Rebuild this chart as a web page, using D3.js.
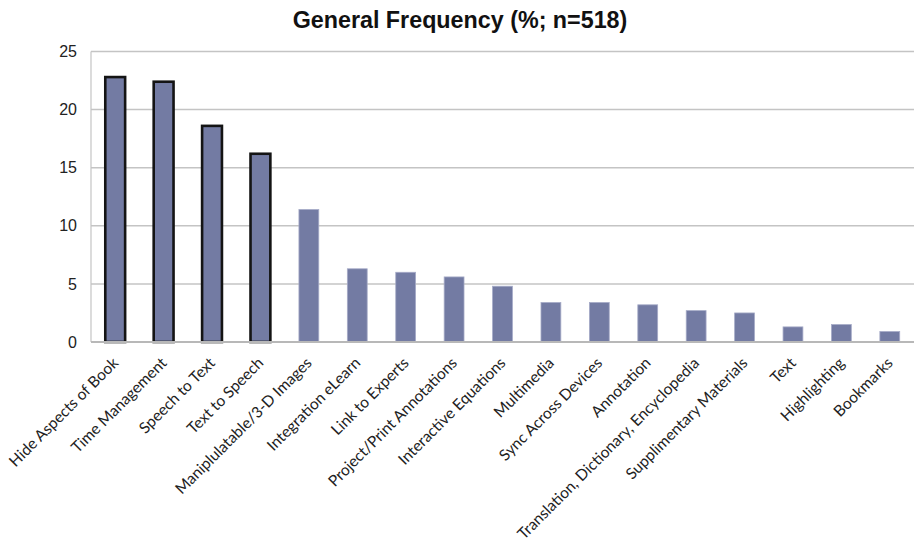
<!DOCTYPE html>
<html>
<head>
<meta charset="utf-8">
<script src="https://cdn.jsdelivr.net/npm/d3@7"></script>
<style>
  html, body { margin: 0; padding: 0; background: #fff; }
  svg { display: block; }
</style>
</head>
<body>
<svg id="chart" width="914" height="542"></svg>
<script>
// Feature categories, in chart order
const categories = [
  "Hide Aspects of Book", "Time Management", "Speech to Text", "Text to Speech",
  "Maniplulatable/3-D Images", "Integration eLearn", "Link to Experts",
  "Project/Print Annotations", "Interactive Equations", "Multimedia",
  "Sync Across Devices", "Annotation", "Translation, Dictionary, Encyclopedia",
  "Supplimentary Materials", "Text", "Highlighting", "Bookmarks"
];
// General frequency, percent of respondents
const frequency = [22.8, 22.4, 18.6, 16.2, 11.4, 6.3, 6.0, 5.6, 4.8, 3.4, 3.4, 3.2, 2.7, 2.5, 1.3, 1.5, 0.9];
// Categories drawn with a heavy outline
const outlined = ["Hide Aspects of Book", "Time Management", "Speech to Text", "Text to Speech"];
const yTicks = [0, 5, 10, 15, 20, 25];
const title = "General Frequency (%; n=518)";

const data = categories.map((c, i) => ({ name: c, value: frequency[i] }));

const svg = d3.select("#chart");
const plotLeft = 91, plotRight = 914, plotTop = 51.5, plotBottom = 342;

const x = d3.scaleBand()
  .domain(categories)
  .range([plotLeft, plotRight])
  .paddingInner(0.59)
  .paddingOuter(0.295);

const y = d3.scaleLinear().domain([0, 25]).range([plotBottom, plotTop]);

// Title
svg.append("text")
  .attr("x", 460)
  .attr("y", 28)
  .attr("text-anchor", "middle")
  .style("font-family", "'Liberation Sans', Arial, sans-serif")
  .style("font-weight", "bold")
  .style("font-size", "23.3px")
  .style("fill", "#111")
  .text(title);

// Horizontal gridlines
svg.append("g")
  .selectAll("line")
  .data(yTicks.filter(t => t > 0))
  .join("line")
  .attr("x1", plotLeft).attr("x2", plotRight)
  .attr("y1", d => y(d)).attr("y2", d => y(d))
  .attr("stroke", "#c4c4c4")
  .attr("stroke-width", 1.5);

// Vertical axis line
svg.append("line")
  .attr("x1", plotLeft).attr("x2", plotLeft)
  .attr("y1", plotTop).attr("y2", plotBottom)
  .attr("stroke", "#c4c4c4")
  .attr("stroke-width", 1.2);

// Y tick labels
const yAxis = d3.axisLeft(y).tickValues(yTicks).tickSize(0).tickPadding(14);
const gy = svg.append("g").attr("transform", `translate(${plotLeft},0)`).call(yAxis);
gy.select(".domain").remove();
gy.selectAll("text")
  .style("font-family", "'Liberation Sans', Arial, sans-serif")
  .style("font-size", "16px")
  .style("fill", "#222");

// Bars
svg.append("g")
  .selectAll("rect")
  .data(data)
  .join("rect")
  .attr("x", d => x(d.name))
  .attr("y", d => y(d.value))
  .attr("width", x.bandwidth())
  .attr("height", d => y(0) - y(d.value))
  .attr("fill", "#737ba3")
  .attr("stroke", d => outlined.includes(d.name) ? "#141414" : "#a6abc7")
  .attr("stroke-width", d => outlined.includes(d.name) ? 2.6 : 0.8);

// Baseline
svg.append("line")
  .attr("x1", plotLeft).attr("x2", plotRight)
  .attr("y1", plotBottom).attr("y2", plotBottom)
  .attr("stroke", "#b8b8b8")
  .attr("stroke-width", 2);

// Rotated category labels
const xAxis = d3.axisBottom(x).tickSize(0).tickPadding(0);
const gx = svg.append("g").attr("transform", `translate(0,${plotBottom})`).call(xAxis);
gx.select(".domain").remove();
gx.selectAll(".tick text")
  .attr("text-anchor", "end")
  .attr("dy", null)
  .attr("transform", "translate(4,22) rotate(-45)")
  .style("font-family", "Lato, 'Open Sans', sans-serif")
  .style("font-size", "15.5px")
  .style("fill", "#222");
</script>
</body>
</html>
